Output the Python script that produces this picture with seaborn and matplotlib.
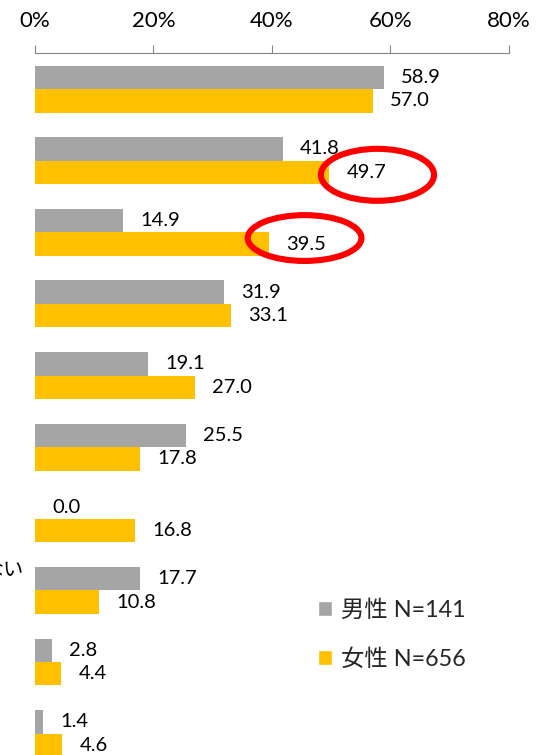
import pandas as pd
import matplotlib
matplotlib.use("Agg")
import matplotlib.pyplot as plt
import seaborn as sns
from matplotlib.patches import Patch, Ellipse

# data (category names are cut off in the original)
items = ["1", "2", "3", "4", "5", "6", "7", "8", "9", "10"]
male = [58.9, 41.8, 14.9, 31.9, 19.1, 25.5, 0.0, 17.7, 2.8, 1.4]
female = [57.0, 49.7, 39.5, 33.1, 27.0, 17.8, 16.8, 10.8, 4.4, 4.6]
groups = ["男性 N=141", "女性 N=656"]
x_ticks = [0, 20, 40, 60, 80]

gray = "#A5A5A5"
gold = "#FFC000"

df = pd.DataFrame({
    "item": items * 2,
    "value": male + female,
    "group": [groups[0]] * len(items) + [groups[1]] * len(items),
})

sns.set_theme(style="white")
plt.rcParams['font.family'] = ['Lato', 'Noto Sans CJK JP', 'DejaVu Sans']

fig = plt.figure(figsize=(5.36, 7.55), dpi=100)
ax = fig.add_axes([0.0653, 0.0, 0.8843, 0.9294])

sns.barplot(data=df, y="item", x="value", hue="group", orient="h",
            palette=[gray, gold], width=0.654, saturation=1,
            linewidth=0, legend=False, ax=ax)

# value labels
for cont, vals in zip(ax.containers, [male, female]):
    ax.bar_label(cont, labels=[f"{v:.1f}" for v in vals], padding=12.5,
                 fontsize=14.5, color="black")

ax.set_xlim(0, 80)
ax.set_ylim(9.3, -0.5)
ax.set_xticks(x_ticks)
ax.set_xticklabels([f"{t}%" for t in x_ticks])
ax.tick_params(axis="x", top=True, labeltop=True, bottom=False, labelbottom=False,
               direction="out", length=5.8, width=0.8, color="#868686",
               pad=10.5, labelsize=16, labelcolor="black")
ax.set_yticks(range(len(items)))
ax.set_yticklabels([""] * len(items))
ax.tick_params(axis="y", length=0)
ax.set_xlabel("")
ax.set_ylabel("")

for s in ["left", "right", "bottom"]:
    ax.spines[s].set_visible(False)
ax.spines["top"].set_visible(True)
ax.spines["top"].set_color("#868686")
ax.spines["top"].set_linewidth(0.8)

# cut-off category label fragment on the left edge
ax.annotate("ない", xy=(0, 6.72), xytext=(-8.5, 0), textcoords="offset points",
            ha="right", va="center", fontsize=14.5, color="black",
            annotation_clip=False)

# red highlight rings
ax.add_patch(Ellipse((57.8, 1.197), 19.1, 0.726, fill=False,
                     edgecolor="red", lw=4.4, clip_on=False))
ax.add_patch(Ellipse((45.5, 2.08), 19.2, 0.64, fill=False,
                     edgecolor="red", lw=4.4, clip_on=False))

handles = [Patch(facecolor=gray), Patch(facecolor=gold)]
fig.legend(handles, groups, loc="upper left", bbox_to_anchor=(0.593, 0.2066),
           frameon=False, fontsize=16.8, handlelength=0.6, handleheight=0.6,
           handletextpad=0.39, labelspacing=1.17, borderpad=0, borderaxespad=0)

fig.savefig("out.png", dpi=100)
